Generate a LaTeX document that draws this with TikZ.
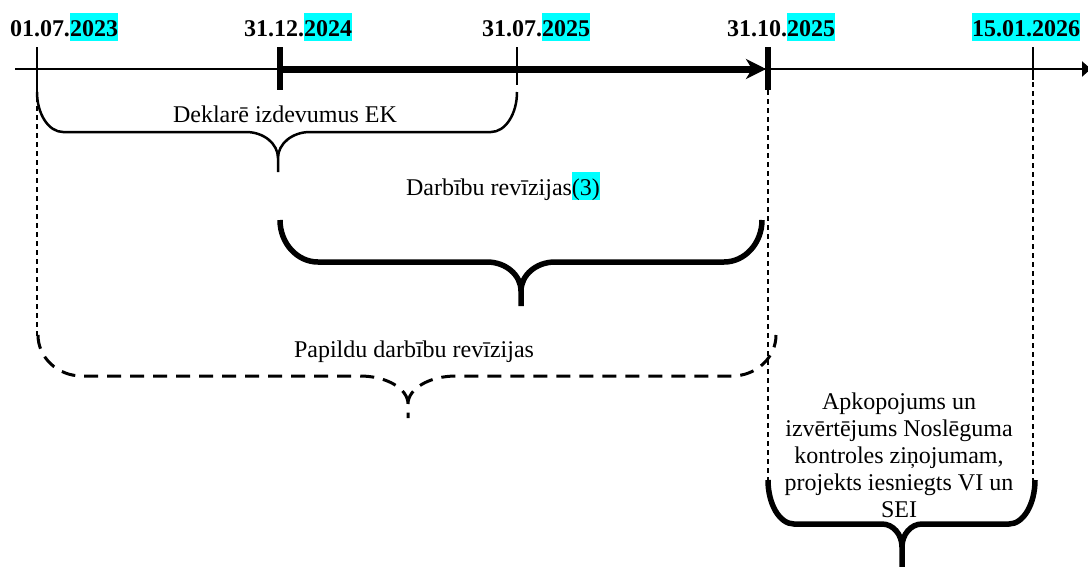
\documentclass[tikz,border=0pt]{standalone}
\usepackage{fontspec}
\setmainfont{Liberation Serif}
\usetikzlibrary{arrows.meta}
\definecolor{hlcyan}{RGB}{0,255,255}
\newcommand\hlc[1]{{\setlength\fboxsep{0pt}\colorbox{hlcyan}{\rule[-5pt]{0pt}{28pt}#1}}}
% brace: x1, x2, xm, ytop, yh, yjoin, ytip, rL, rM
\newcommand\bracepath[9]{%
(#1,#4) .. controls (#1,{#4+0.552*(#5-#4)}) and ({#1+0.448*#8},#5) .. ({#1+#8},#5)
-- ({#3-#9},#5) .. controls ({#3-0.448*#9},#5) and (#3,{#6-0.552*(#6-#5)}) .. (#3,#6)
-- (#3,#7)
(#3,#6) .. controls (#3,{#6-0.552*(#6-#5)}) and ({#3+0.448*#9},#5) .. ({#3+#9},#5)
-- ({#2-#8},#5) .. controls ({#2-0.448*#8},#5) and (#2,{#4+0.552*(#5-#4)}) .. (#2,#4)}
\begin{document}
\begin{tikzpicture}[x=1pt,y=-1pt,
  thinline/.style={line width=2.6pt},
  tickthin/.style={line width=1.8pt},
  tickthick/.style={line width=6pt},
  vdash/.style={line width=2pt,dash pattern=on 5pt off 4pt},
  thinbrace/.style={line width=2.5pt},
  thickbrace/.style={line width=5.5pt},
  dashbrace/.style={line width=3pt,dash pattern=on 14pt off 9pt},
  date/.style={anchor=base,inner sep=0pt,font=\fontsize{24}{27}\selectfont\bfseries},
  lbl/.style={anchor=base,inner sep=0pt,font=\fontsize{24}{27}\selectfont}]
\useasboundingbox (0,0) rectangle (1088,566);
% timeline
\coordinate (L) at (15,69);
\coordinate (R) at (1091,69);
\coordinate (T1) at (37,69);
\coordinate (T2) at (280,69);
\coordinate (T3) at (517,69);
\coordinate (T4) at (768,69);
\coordinate (T5) at (1033,69);
\coordinate (S) at (283,69);
\coordinate (E) at (766,69);
\draw[thinline,-{Triangle[length=9pt,width=15pt]}] (L) -- (R);
\draw[line width=7pt,-{Stealth[length=20pt,width=20pt,inset=6pt]}] (S) -- (E);
% ticks
\draw[tickthin] ([yshift=22pt]T1) -- ([yshift=-21pt]T1);
\draw[tickthin] ([yshift=22pt]T3) -- ([yshift=-16pt]T3);
\draw[tickthin] ([yshift=22pt]T5) -- ([yshift=-11pt]T5);
\draw[tickthick] ([yshift=22pt]T2) -- ([yshift=-21pt]T2);
\draw[tickthick] ([yshift=22pt]T4) -- ([yshift=-21pt]T4);
% dashed verticals
\coordinate (V1) at (37,338);
\coordinate (V4) at (768,480);
\coordinate (V5) at (1033,480);
\draw[vdash] ([yshift=-19pt]T1) -- (V1);
\draw[vdash] ([yshift=-21pt]T4) -- (V4);
\draw[vdash] ([yshift=-13pt]T5) -- (V5);
% dates
\node[date] (d1) at (64,36) {01.07.\hlc{2023}};
\node[date] (d2) at (298,36) {31.12.\hlc{2024}};
\node[date] (d3) at (536,36) {31.07.\hlc{2025}};
\node[date] (d4) at (781,36) {31.10.\hlc{2025}};
\node[date] (d5) at (1026,36) {\hlc{15.01.2026}};
% braces
\draw[thinbrace] \bracepath{37}{517}{278}{92}{132}{158}{172}{26}{32};
\draw[thickbrace] \bracepath{280}{762}{521}{220}{262}{291}{306}{38}{34};
\draw[dashbrace] \bracepath{38}{776}{408}{335}{376}{404}{418}{44}{48};
\draw[thickbrace] \bracepath{768}{1035}{902}{480}{524}{547}{572}{26}{20};
% labels
\node[lbl] (n1) at (285,122) {Deklarē izdevumus EK};
\node[lbl] (n2) at (503,195) {Darbību revīzijas\hlc{(3)}};
\node[lbl] (n3) at (414,357) {Papildu darbību revīzijas};
\node[lbl,anchor=center,align=center] (n4) at (899,455) {Apkopojums un\\izvērtējums Noslēguma\\kontroles ziņojumam,\\projekts iesniegts VI un\\SEI};
\end{tikzpicture}
\end{document}
